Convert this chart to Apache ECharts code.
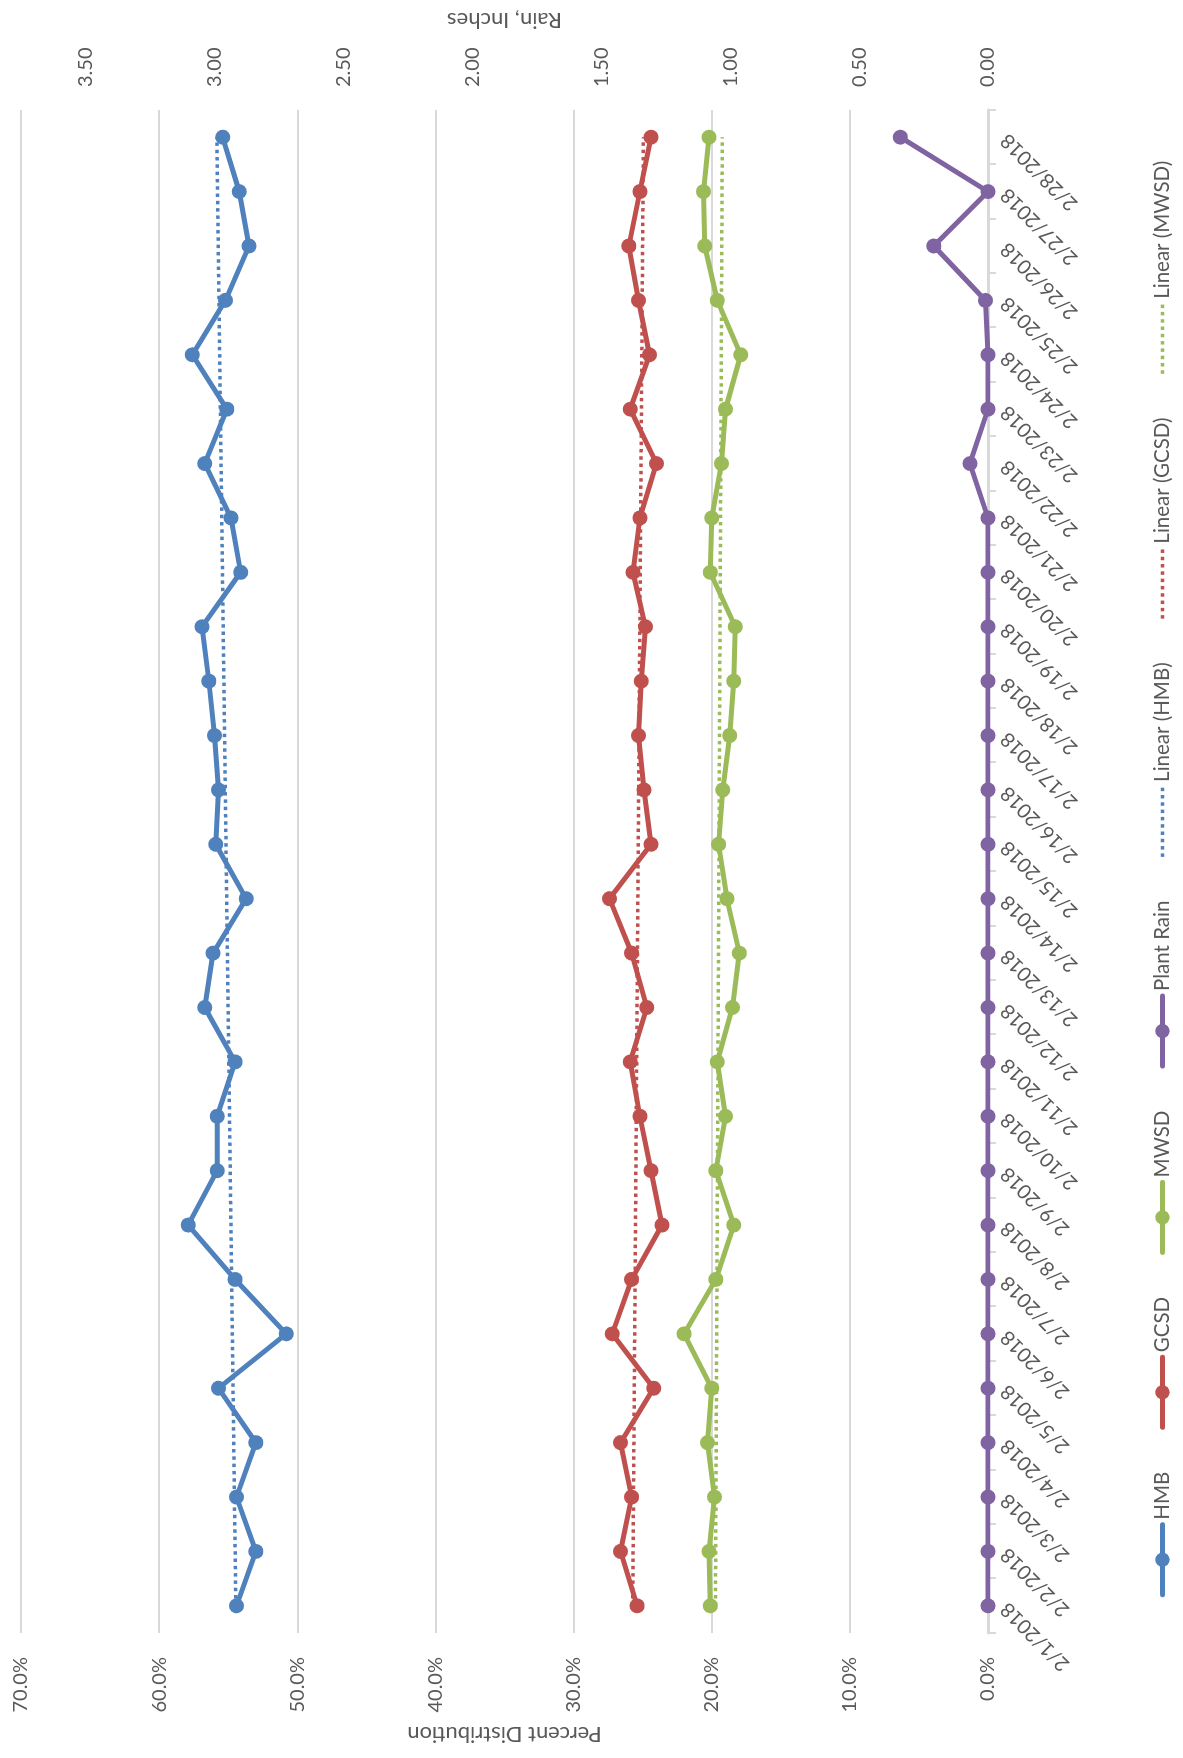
<!DOCTYPE html>
<html>
<head>
<meta charset="utf-8">
<title>Percent Distribution and Plant Rain, February 2018</title>
<script src="https://cdn.jsdelivr.net/npm/echarts@6/dist/echarts.min.js"></script>
<style>
  html, body { margin: 0; padding: 0; background: #ffffff; }
  body { width: 1183px; height: 1758px; overflow: hidden; position: relative; }
  /* The chart is laid out landscape and turned a quarter turn counter-clockwise onto the portrait page. */
  #chart {
    position: absolute; left: 0; top: 0;
    width: 1758px; height: 1183px;
    transform-origin: 0 0;
    transform: translateY(1758px) rotate(-90deg);
  }
</style>
</head>
<body>
<div id="chart"></div>
<script>
// Daily dates
const dates = [
  '2/1/2018', '2/2/2018', '2/3/2018', '2/4/2018', '2/5/2018', '2/6/2018', '2/7/2018',
  '2/8/2018', '2/9/2018', '2/10/2018', '2/11/2018', '2/12/2018', '2/13/2018', '2/14/2018',
  '2/15/2018', '2/16/2018', '2/17/2018', '2/18/2018', '2/19/2018', '2/20/2018', '2/21/2018',
  '2/22/2018', '2/23/2018', '2/24/2018', '2/25/2018', '2/26/2018', '2/27/2018', '2/28/2018'
];

// Percent distribution of flow by district (%)
const hmb = [
  54.4, 53.0, 54.4, 53.0, 55.7, 50.8, 54.5,
  57.9, 55.8, 55.8, 54.5, 56.7, 56.1, 53.7,
  55.9, 55.7, 56.0, 56.4, 56.9, 54.1, 54.8,
  56.7, 55.1, 57.6, 55.2, 53.5, 54.2, 55.4
];
const gcsd = [
  25.4, 26.6, 25.8, 26.6, 24.2, 27.2, 25.8,
  23.6, 24.4, 25.2, 25.9, 24.7, 25.8, 27.4,
  24.4, 24.9, 25.3, 25.1, 24.8, 25.7, 25.2,
  24.0, 25.9, 24.5, 25.3, 26.0, 25.2, 24.4
];
const mwsd = [
  20.1, 20.2, 19.8, 20.3, 20.0, 22.0, 19.7,
  18.4, 19.7, 19.0, 19.6, 18.5, 18.0, 18.9,
  19.5, 19.2, 18.7, 18.4, 18.3, 20.1, 20.0,
  19.3, 19.0, 17.9, 19.6, 20.5, 20.6, 20.2
];

// Rain at the plant (inches)
const plantRain = [
  0, 0, 0, 0, 0, 0, 0,
  0, 0, 0, 0, 0, 0, 0,
  0, 0, 0, 0, 0, 0, 0,
  0.07, 0, 0, 0.01, 0.21, 0, 0.34
];

// Axis ranges
const percentMax = 70;
const percentStep = 10;
const rainMax = 3.75;
const rainStep = 0.5;

const colors = {
  hmb: '#4F81BD',
  gcsd: '#C0504D',
  mwsd: '#9BBB59',
  rain: '#8064A2'
};

// Least-squares linear trend over the day index
function linearTrend(values) {
  const n = values.length;
  let sx = 0, sy = 0, sxx = 0, sxy = 0;
  values.forEach((v, i) => {
    const x = i + 1;
    sx += x; sy += v; sxx += x * x; sxy += x * v;
  });
  const slope = (n * sxy - sx * sy) / (n * sxx - sx * sx);
  const intercept = (sy - slope * sx) / n;
  return values.map((_, i) => +(intercept + slope * (i + 1)).toFixed(3));
}

const font = 'Lato, "Open Sans", sans-serif';
const textColor = '#595959';
const gridColor = '#D9D9D9';

function dataSeries(name, data, color, axisIndex) {
  return {
    name: name,
    type: 'line',
    yAxisIndex: axisIndex,
    data: data,
    symbol: 'circle',
    symbolSize: 15,
    showSymbol: true,
    lineStyle: { color: color, width: 5, cap: 'round', join: 'round' },
    itemStyle: { color: color },
    emphasis: { disabled: true },
    z: 3
  };
}

function trendSeries(name, data, color) {
  return {
    name: name,
    type: 'line',
    yAxisIndex: 0,
    data: linearTrend(data),
    symbol: 'none',
    lineStyle: { color: color, width: 3.5, type: [3.5, 3.8], cap: 'butt' },
    itemStyle: { color: color },
    emphasis: { disabled: true },
    z: 4
  };
}

// Legend entries: trend lines show only their dotted stroke
const legendNames = ['HMB', 'GCSD', 'MWSD', 'Plant Rain', 'Linear (HMB)', 'Linear (GCSD)', 'Linear (MWSD)'];
const legendData = legendNames.map(name =>
  name.indexOf('Linear') === 0 ? { name: name, itemStyle: { opacity: 0 } } : { name: name }
);

const chart = echarts.init(document.getElementById('chart'), null, { renderer: 'canvas' });

chart.setOption({
  animation: false,
  backgroundColor: '#ffffff',
  textStyle: { fontFamily: font, color: textColor },
  grid: { left: 125, right: 110, top: 21, bottom: 195, containLabel: false },
  legend: {
    left: 'center',
    top: 1147,
    itemWidth: 70,
    itemHeight: 18,
    itemGap: 42,
    lineStyle: { width: 'inherit' },
    textStyle: { fontFamily: font, fontSize: 20.5, color: textColor },
    data: legendData
  },
  xAxis: {
    type: 'category',
    data: dates,
    boundaryGap: true,
    axisLine: { show: true, lineStyle: { color: gridColor, width: 3 } },
    axisTick: { show: true, length: 8, lineStyle: { color: gridColor, width: 2 } },
    axisLabel: {
      interval: 0,
      rotate: 45,
      margin: 16,
      fontFamily: font,
      fontSize: 20,
      color: textColor
    },
    splitLine: { show: false }
  },
  yAxis: [
    {
      type: 'value',
      min: 0,
      max: percentMax,
      interval: percentStep,
      name: 'Percent Distribution',
      nameLocation: 'middle',
      nameRotate: 90,
      nameGap: 88,
      nameTextStyle: { fontFamily: font, fontSize: 22, color: textColor },
      axisLine: { show: false },
      axisTick: { show: false },
      axisLabel: {
        margin: 24,
        fontFamily: font,
        fontSize: 20,
        color: textColor,
        formatter: v => v.toFixed(1) + '%'
      },
      splitLine: { show: true, lineStyle: { color: gridColor, width: 2 } }
    },
    {
      type: 'value',
      position: 'right',
      min: 0,
      max: rainMax,
      interval: rainStep,
      name: 'Rain, Inches',
      nameLocation: 'middle',
      nameRotate: 90,
      nameGap: 79,
      nameTextStyle: { fontFamily: font, fontSize: 22, color: textColor },
      axisLine: { show: false },
      axisTick: { show: false },
      axisLabel: {
        margin: 23,
        showMaxLabel: false,
        fontFamily: font,
        fontSize: 20,
        color: textColor,
        formatter: v => (v > 3.5 ? '' : v.toFixed(2))
      },
      splitLine: { show: false }
    }
  ],
  series: [
    dataSeries('HMB', hmb, colors.hmb, 0),
    dataSeries('GCSD', gcsd, colors.gcsd, 0),
    dataSeries('MWSD', mwsd, colors.mwsd, 0),
    dataSeries('Plant Rain', plantRain, colors.rain, 1),
    trendSeries('Linear (HMB)', hmb, colors.hmb),
    trendSeries('Linear (GCSD)', gcsd, colors.gcsd),
    trendSeries('Linear (MWSD)', mwsd, colors.mwsd)
  ]
});
</script>
</body>
</html>
